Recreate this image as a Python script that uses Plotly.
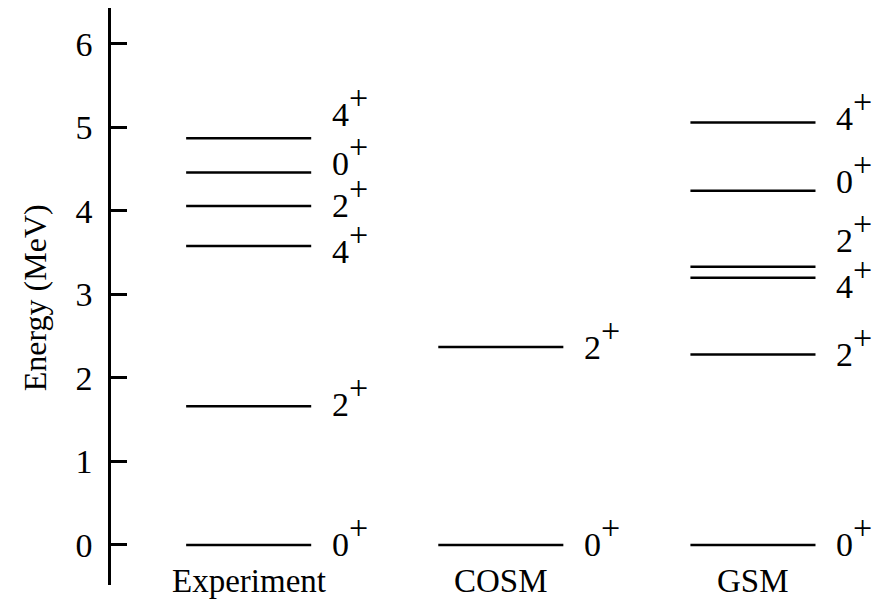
import plotly.graph_objects as go

# Level energies (MeV) for each calculation / measurement
columns = ["Experiment", "COSM", "GSM"]
exp_energy = [0.0, 1.66, 3.58, 4.06, 4.46, 4.87]
exp_spin = ["0", "2", "4", "2", "0", "4"]
exp_label_pos = [0.0, 1.68, 3.51, 4.07, 4.57, 5.15]

cosm_energy = [0.0, 2.37]
cosm_spin = ["0", "2"]
cosm_label_pos = [0.0, 2.37]

gsm_energy = [0.0, 2.28, 3.20, 3.33, 4.24, 5.06]
gsm_spin = ["0", "2", "4", "2", "0", "4"]
gsm_label_pos = [0.0, 2.28, 3.09, 3.65, 4.35, 5.11]

y_ticks = [0, 1, 2, 3, 4, 5, 6]

FONT = "Liberation Serif, Times New Roman, DejaVu Serif, serif"
HALF_W = 0.248
LABEL_DX = 0.323
SPIN_SIZE = 34

datasets = [
    (exp_energy, exp_spin, exp_label_pos),
    (cosm_energy, cosm_spin, cosm_label_pos),
    (gsm_energy, gsm_spin, gsm_label_pos),
]

fig = go.Figure()
annotations = []
spin_font = dict(family=FONT, size=SPIN_SIZE, color="black")
for col, (energies, spins, lpos) in enumerate(datasets):
    xs, ys = [], []
    for e in energies:
        xs += [col - HALF_W, col + HALF_W, None]
        ys += [e, e, None]
    fig.add_trace(go.Scatter(x=xs, y=ys, mode="lines",
                             line=dict(color="black", width=2.5),
                             showlegend=False, hoverinfo="skip"))
    for s, yp in zip(spins, lpos):
        # spin value
        annotations.append(dict(x=col + LABEL_DX, y=yp, xref="x", yref="y",
                                text=s, showarrow=False,
                                xanchor="left", yanchor="middle",
                                font=spin_font))
        # full-size raised parity sign
        annotations.append(dict(x=col + LABEL_DX, y=yp, xref="x", yref="y",
                                text="+", showarrow=False,
                                xanchor="left", yanchor="middle",
                                xshift=SPIN_SIZE * 0.5, yshift=17,
                                font=spin_font))
    annotations.append(dict(x=col, y=-0.43, xref="x", yref="y",
                            text=columns[col], showarrow=False,
                            xanchor="center", yanchor="middle",
                            font=dict(family=FONT, size=33, color="black")))

annotations.append(dict(x=-0.1, y=2.96, xref="paper", yref="y",
                        text="Energy (MeV)", textangle=-90, showarrow=False,
                        xanchor="center", yanchor="middle",
                        font=dict(family=FONT, size=32, color="black")))

fig.update_layout(
    width=876, height=602,
    margin=dict(l=111, r=0, t=8, b=17),
    paper_bgcolor="white", plot_bgcolor="white",
    font=dict(family=FONT, color="black"),
    annotations=annotations,
    xaxis=dict(range=[-0.546, 2.488], visible=False, fixedrange=True),
    yaxis=dict(range=[-0.48, 6.43], tickvals=y_ticks,
               ticks="inside", ticklen=16, tickwidth=2.5, tickcolor="black",
               showline=True, linewidth=2.5, linecolor="black",
               showgrid=False, zeroline=False,
               ticklabelstandoff=9,
               tickfont=dict(family=FONT, size=34, color="black")),
)

fig.write_html("out.html")
